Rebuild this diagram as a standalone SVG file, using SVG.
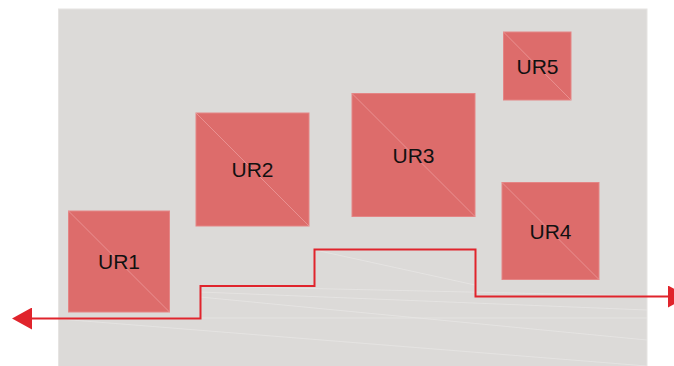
<svg xmlns="http://www.w3.org/2000/svg" width="674" height="366" viewBox="0 0 674 366">
<style>
.node rect{fill:#dd6c6b;stroke:#e48585;stroke-width:1}
.node line{stroke:#ec9a9a;stroke-width:0.8}
.node text{font-family:"Liberation Sans",Arial,sans-serif;font-size:21px;fill:#111;text-anchor:middle;dominant-baseline:central}
.faint{stroke:#e8e7e5;stroke-width:1;fill:none;opacity:0.7}
.conn{stroke:#e0242c;stroke-width:2;fill:none}
</style>
<defs>
<marker id="arr" viewBox="0 0 20 22" refX="0" refY="11" markerWidth="20" markerHeight="22" markerUnits="userSpaceOnUse" orient="auto-start-reverse">
<path d="M20,11 L0,0 L0,22 Z" fill="#e0242c"/>
</marker>
</defs>
<rect x="58.5" y="9" width="588.5" height="360" fill="#dcdad8" stroke="#e6e4e2" stroke-width="1"/>
<g id="bg-lines">
<line class="faint" x1="59" y1="318" x2="647" y2="318"/>
<line class="faint" x1="59" y1="319" x2="647" y2="366"/>
<line class="faint" x1="200" y1="286" x2="647" y2="296"/>
<line class="faint" x1="200" y1="292" x2="647" y2="310"/>
<line class="faint" x1="200" y1="297" x2="647" y2="340"/>
<line class="faint" x1="315" y1="250" x2="475" y2="285"/>
</g>
<g id="UR1" class="node"><rect x="68.5" y="211" width="101" height="101"/><line x1="68.5" y1="211" x2="169.5" y2="312"/><text x="119" y="261.5">UR1</text></g>
<g id="UR2" class="node"><rect x="196" y="113" width="113" height="113"/><line x1="196" y1="113" x2="309" y2="226"/><text x="252.5" y="169.5">UR2</text></g>
<g id="UR3" class="node"><rect x="352" y="93.5" width="123" height="123"/><line x1="352" y1="93.5" x2="475" y2="216.5"/><text x="413.5" y="155">UR3</text></g>
<g id="UR4" class="node"><rect x="502" y="182.5" width="97" height="97"/><line x1="502" y1="182.5" x2="599" y2="279.5"/><text x="550.5" y="231">UR4</text></g>
<g id="UR5" class="node"><rect x="503.5" y="32" width="67.5" height="68"/><line x1="503.5" y1="32" x2="571" y2="100"/><text x="537.5" y="66">UR5</text></g>
<g id="connectors">
<path class="conn" d="M32,318.5 H200.5 V286 H314.5 V249.5 H475.5 V296.5 H668" marker-start="url(#arr)" marker-end="url(#arr)"/>
</g>
</svg>
